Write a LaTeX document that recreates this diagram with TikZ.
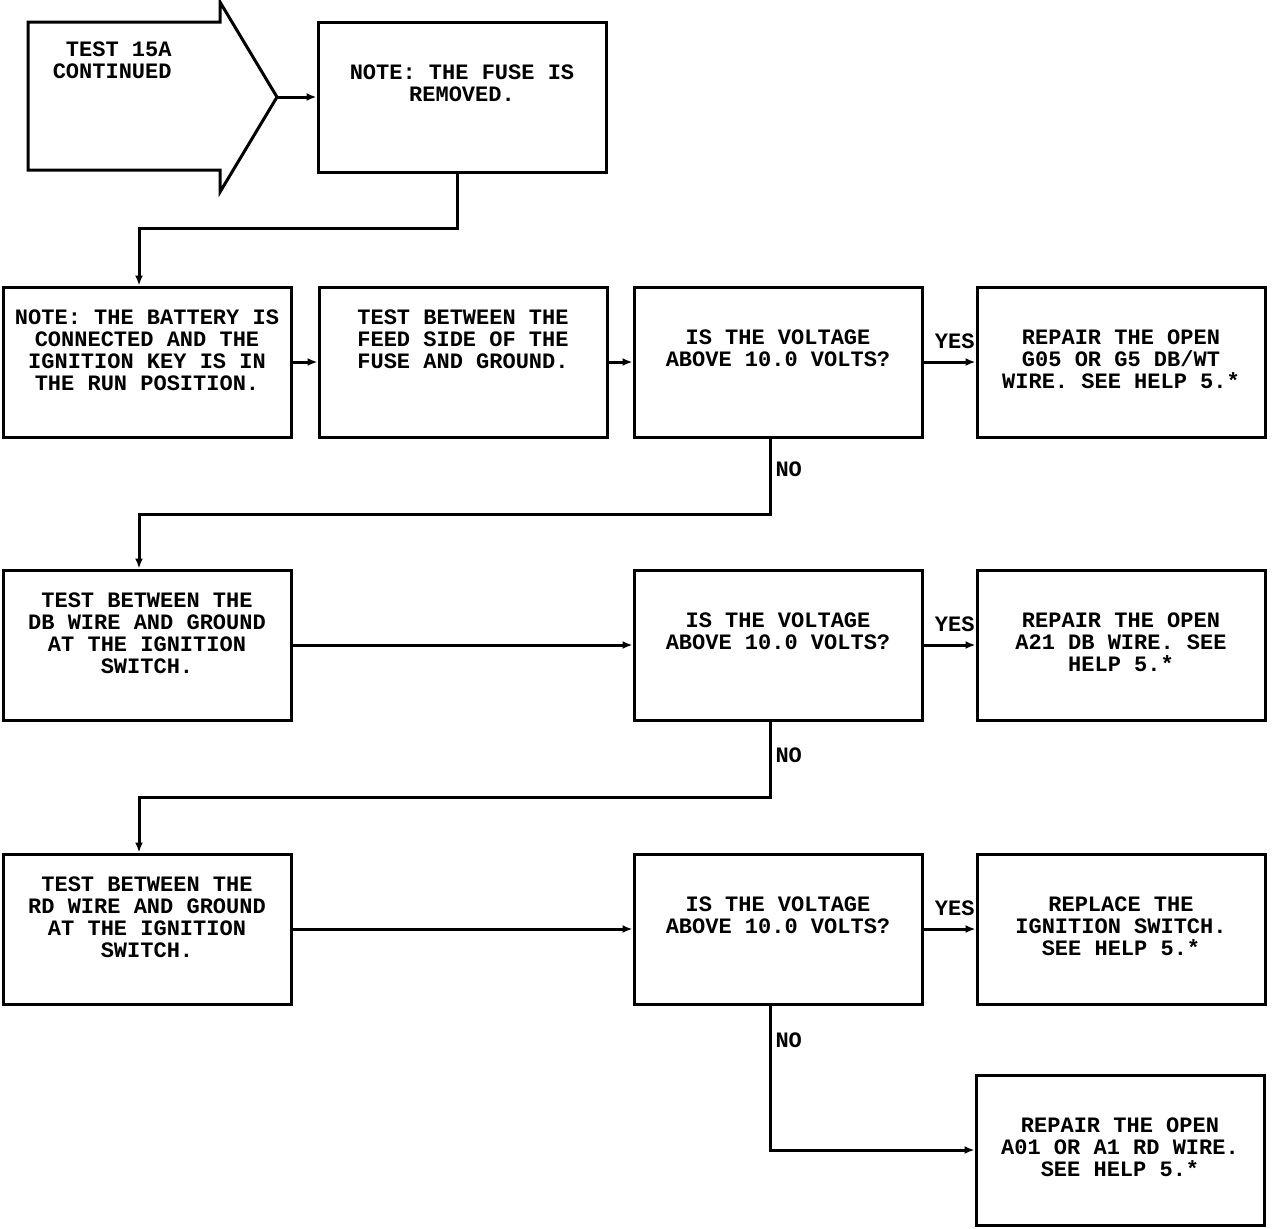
\documentclass[tikz,border=0pt]{standalone}
\usepackage{fontspec}
\setmonofont{Liberation Mono}
\usetikzlibrary{
    arrows.meta,
    positioning
}
\tikzset{
    box/.style={draw, line width=1.5pt, minimum width=144pt, minimum height=75pt, inner sep=0pt},
    txt/.style={font=\ttfamily\bfseries\fontsize{11}{11}\selectfont, align=center, inner sep=0pt},
    toptxt/.style={label={[txt, anchor=north, yshift=-12pt]north:{#1}}},
    lowtxt/.style={label={[txt, anchor=north, yshift=-22pt]north:{#1}}},
    conn/.style={line width=1.5pt, -{Latex[length=5pt, width=4pt]}},
    lbl/.style={font=\ttfamily\bfseries\fontsize{11}{11}\selectfont, inner sep=2pt}
}
\begin{document}
\begin{tikzpicture}[x=0.5pt, y=-0.5pt]
    \useasboundingbox (0, 0) rectangle (1280, 1228);

    % entry arrow
    \draw[line width=1.5pt] (28, 22) -- (220, 22) -- (220, 2) -- (277, 97) -- (220, 192) -- (220, 170) -- (28, 170) -- cycle;
    \coordinate (tip) at (277, 97);
    \node[txt, align=right, anchor=east] (cont) at (172, 60) {TEST 15A\\CONTINUED};

    \node[box, lowtxt={NOTE: THE FUSE IS\\REMOVED.}] (fuse) at (462, 97) {};

    % first check
    \node[box, toptxt={NOTE: THE BATTERY IS\\CONNECTED AND THE\\IGNITION KEY IS IN\\THE RUN POSITION.}] (batt) at (147, 362) {};
    \node[box, toptxt={TEST BETWEEN THE\\FEED SIDE OF THE\\FUSE AND GROUND.}] (feed) at (463, 362) {};
    \node[box, lowtxt={IS THE VOLTAGE\\ABOVE 10.0 VOLTS?}] (q1) at (778, 362) {};
    \node[box, lowtxt={REPAIR THE OPEN\\G05 OR G5 DB/WT\\WIRE. SEE HELP 5.*}] (rep1) at (1121, 362) {};

    % second check
    \node[box, toptxt={TEST BETWEEN THE\\DB WIRE AND GROUND\\AT THE IGNITION\\SWITCH.}] (dbtest) at (147, 645) {};
    \node[box, lowtxt={IS THE VOLTAGE\\ABOVE 10.0 VOLTS?}] (q2) at (778, 645) {};
    \node[box, lowtxt={REPAIR THE OPEN\\A21 DB WIRE. SEE\\HELP 5.*}] (rep2) at (1121, 645) {};

    % third check
    \node[box, toptxt={TEST BETWEEN THE\\RD WIRE AND GROUND\\AT THE IGNITION\\SWITCH.}] (rdtest) at (147, 929) {};
    \node[box, lowtxt={IS THE VOLTAGE\\ABOVE 10.0 VOLTS?}] (q3) at (778, 929) {};
    \node[box, lowtxt={REPLACE THE\\IGNITION SWITCH.\\SEE HELP 5.*}] (swrep) at (1121, 929) {};
    \node[box, lowtxt={REPAIR THE OPEN\\A01 OR A1 RD WIRE.\\SEE HELP 5.*}] (rep3) at (1120, 1150) {};

    \draw[conn] (tip) -- (fuse);
    \draw[conn] ([xshift=-2.5pt]fuse.south) -- ++(0, 55) -| ([xshift=-4pt]batt.north);
    \draw[conn] (batt) -- (feed);
    \draw[conn] (feed) -- (q1);
    \draw[conn] (q1) -- node[lbl, above, pos=0.6, yshift=4pt] (yes1) {YES} (rep1);
    \draw[conn] ([xshift=-4pt]q1.south) -- node[lbl, right, pos=0.4] (no1) {NO} ++(0, 76) -| ([xshift=-4pt]dbtest.north);

    \draw[conn] (dbtest) -- (q2);
    \draw[conn] (q2) -- node[lbl, above, pos=0.6, yshift=4pt] (yes2) {YES} (rep2);
    \draw[conn] ([xshift=-4pt]q2.south) -- node[lbl, right, pos=0.45] (no2) {NO} ++(0, 76) -| ([xshift=-4pt]rdtest.north);

    \draw[conn] (rdtest) -- (q3);
    \draw[conn] (q3) -- node[lbl, above, pos=0.6, yshift=4pt] (yes3) {YES} (swrep);
    \draw[conn] ([xshift=-4pt]q3.south) |- node[lbl, right, pos=0.12] (no3) {NO} (rep3.west);
\end{tikzpicture}
\end{document}
